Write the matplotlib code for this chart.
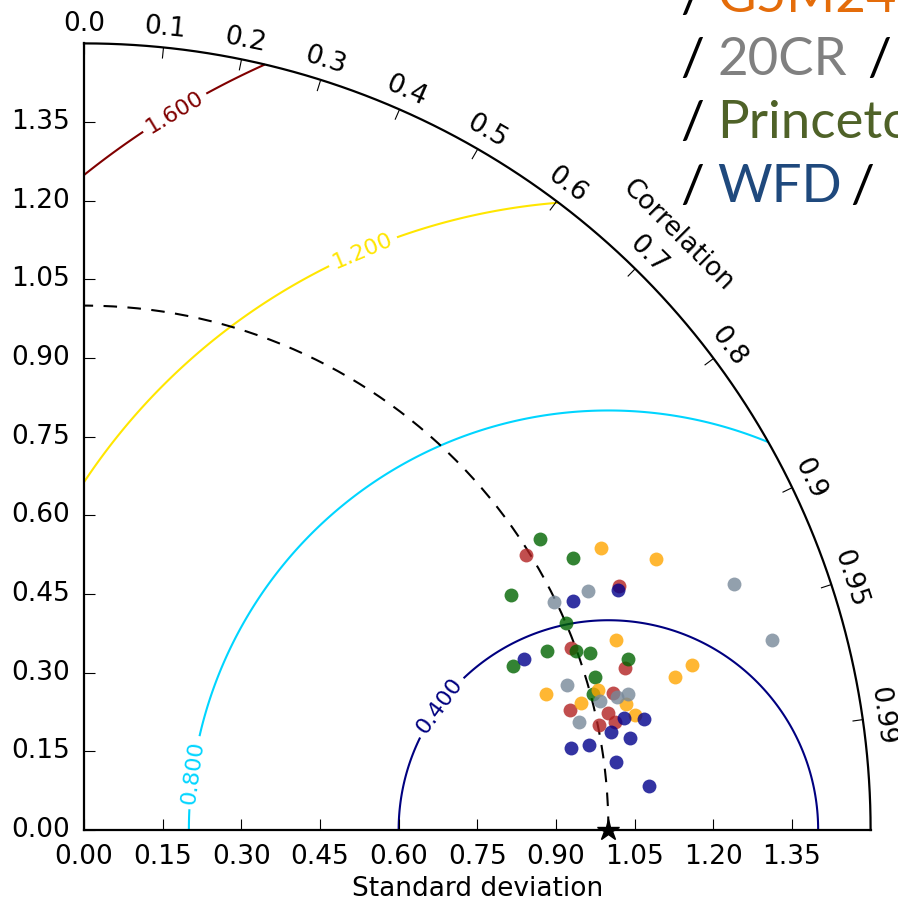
import numpy as np
import matplotlib
matplotlib.use("Agg")
import matplotlib.pyplot as plt
from matplotlib.projections import PolarAxes
import mpl_toolkits.axisartist.floating_axes as FA
import mpl_toolkits.axisartist.grid_finder as GF

# ---------------- data ----------------
ref_std = 1.0
std_max = 1.5
corr_ticks = [0.0, 0.1, 0.2, 0.3, 0.4, 0.5, 0.6, 0.7, 0.8, 0.9, 0.95, 0.99]
std_ticks = [0.00, 0.15, 0.30, 0.45, 0.60, 0.75, 0.90, 1.05, 1.20, 1.35]
rms_levels = [0.4, 0.8, 1.2, 1.6]

red_std = [0.993, 1.122, 0.991, 1.076, 1.042, 0.954, 1.023, 1.034, 1.002]
red_corr = [0.849, 0.910, 0.937, 0.958, 0.968, 0.971, 0.976, 0.980, 0.980]

green_std = [1.031, 1.066, 0.929, 1.001, 0.946, 0.998, 1.022, 0.875, 1.088, 1.018, 1.005]
green_corr = [0.843, 0.874, 0.876, 0.919, 0.933, 0.940, 0.944, 0.934, 0.954, 0.958, 0.966]

orange_std = [1.122, 1.207, 1.077, 1.202, 1.164, 0.918, 1.016, 0.979, 1.062, 1.073]
orange_corr = [0.878, 0.904, 0.942, 0.965, 0.968, 0.959, 0.965, 0.969, 0.974, 0.979]

gray_std = [1.325, 1.064, 0.996, 1.360, 0.962, 1.070, 1.047, 0.966, 1.015]
gray_corr = [0.935, 0.904, 0.900, 0.964, 0.958, 0.970, 0.970, 0.977, 0.970]

blue_std = [1.116, 1.030, 0.901, 1.052, 1.089, 1.022, 1.056, 0.941, 0.976, 1.023, 1.081]
blue_corr = [0.912, 0.906, 0.932, 0.979, 0.981, 0.983, 0.986, 0.986, 0.986, 0.992, 0.997]

legend_names = ["G5M24", "20CR", "Princeton", "WFD"]
legend_colors = ["#E46C0A", "#808080", "#4F6228", "#1F497D"]

# ---------------- figure ----------------
W, H = 898, 902
fig = plt.figure(figsize=(W / 100, H / 100), dpi=100)

tr = PolarAxes.PolarTransform(apply_theta_transforms=False)
tlocs = np.arccos(corr_ticks)
gl1 = GF.FixedLocator(tlocs)
tf1 = GF.DictFormatter(dict(zip(tlocs, [str(c) for c in corr_ticks])))
gl2 = GF.FixedLocator(std_ticks)
tf2 = GF.DictFormatter(dict(zip(std_ticks, ["%.2f" % s for s in std_ticks])))

ghelper = FA.GridHelperCurveLinear(
    tr, extremes=(0, np.pi / 2, 0, std_max),
    grid_locator1=gl1, tick_formatter1=tf1,
    grid_locator2=gl2, tick_formatter2=tf2)

# floating axes expands its limits by 2%, so the rect is enlarged to match
ppu = 524.4
ext = 1.53 * ppu
rect = [(84 - 0.015 * ppu) / W, (H - 830 - 0.015 * ppu) / H, ext / W, ext / H]
ax = FA.FloatingAxes(fig, rect, grid_helper=ghelper)
fig.add_axes(ax)

fs = 19
ax.axis["top"].set_axis_direction("bottom")
ax.axis["top"].toggle(ticklabels=True, label=True)
ax.axis["top"].major_ticklabels.set_axis_direction("top")
ax.axis["top"].label.set_axis_direction("top")
ax.axis["top"].label.set_text("Correlation")

ax.axis["left"].set_axis_direction("bottom")
ax.axis["left"].label.set_text("Standard deviation")

ax.axis["right"].set_axis_direction("top")
ax.axis["right"].toggle(ticklabels=True)
ax.axis["right"].major_ticklabels.set_axis_direction("left")

ax.axis["bottom"].set_visible(False)

for k in ["top", "left", "right"]:
    ax.axis[k].major_ticklabels.set_fontsize(fs)
    ax.axis[k].label.set_fontsize(fs)
    ax.axis[k].line.set_linewidth(1.6)
    ax.axis[k].major_ticks.set_ticksize(8)
    ax.axis[k].major_ticks.set_linewidth(1.2)
ax.axis["left"].major_ticklabels.set_pad(10)
ax.axis["right"].major_ticklabels.set_pad(10)
ax.axis["top"].major_ticklabels.set_pad(9)
ax.axis["left"].label.set_pad(9)
ax.axis["top"].label.set_pad(6)

aux = ax.get_aux_axes(tr)

# RMS contours
rs, ts = np.meshgrid(np.linspace(0, std_max, 300), np.linspace(0, np.pi / 2, 300))
rms = np.sqrt(ref_std ** 2 + rs ** 2 - 2 * ref_std * rs * np.cos(ts))
cs = aux.contour(ts, rs, rms, levels=rms_levels, cmap="jet", linewidths=1.5)
aux.clabel(cs, inline=True, fontsize=16, fmt="%.3f",
           manual=[(0.321, 0.725), (0.511, 0.227), (1.130, 1.234), (1.453, 1.393)])

# reference arc and point
t = np.linspace(0, np.pi / 2, 200)
aux.plot(t, np.full_like(t, ref_std), color="k", ls=(0, (6.5, 5)), lw=1.5)

series = [
    (red_std, red_corr, "#b22222"),
    (green_std, green_corr, "#006400"),
    (orange_std, orange_corr, "#FFA500"),
    (gray_std, gray_corr, "#778899"),
    (blue_std, blue_corr, "#00008B"),
]
for s, c, col in series:
    aux.plot(np.arccos(c), s, ls="", marker="o", ms=10, color=col,
             alpha=0.8, mew=0, zorder=5)

aux.plot([0], [ref_std], "k*", ms=16, clip_on=False, zorder=10)

# overlaid legend text (top right)
baselines = [12, 75, 138, 202]
trail = [None, 867, None, 850]
for name, col, yb, tx in zip(legend_names, legend_colors, baselines, trail):
    fig.text(680 / W, 1 - yb / H, "/", fontsize=38, family="Lato",
             color="k", va="baseline", ha="left")
    fig.text(717 / W, 1 - yb / H, name, fontsize=38, family="Lato",
             color=col, va="baseline", ha="left")
    if tx is not None:
        fig.text(tx / W, 1 - yb / H, "/", fontsize=38, family="Lato",
                 color="k", va="baseline", ha="left")

fig.savefig("out.png", dpi=100)
